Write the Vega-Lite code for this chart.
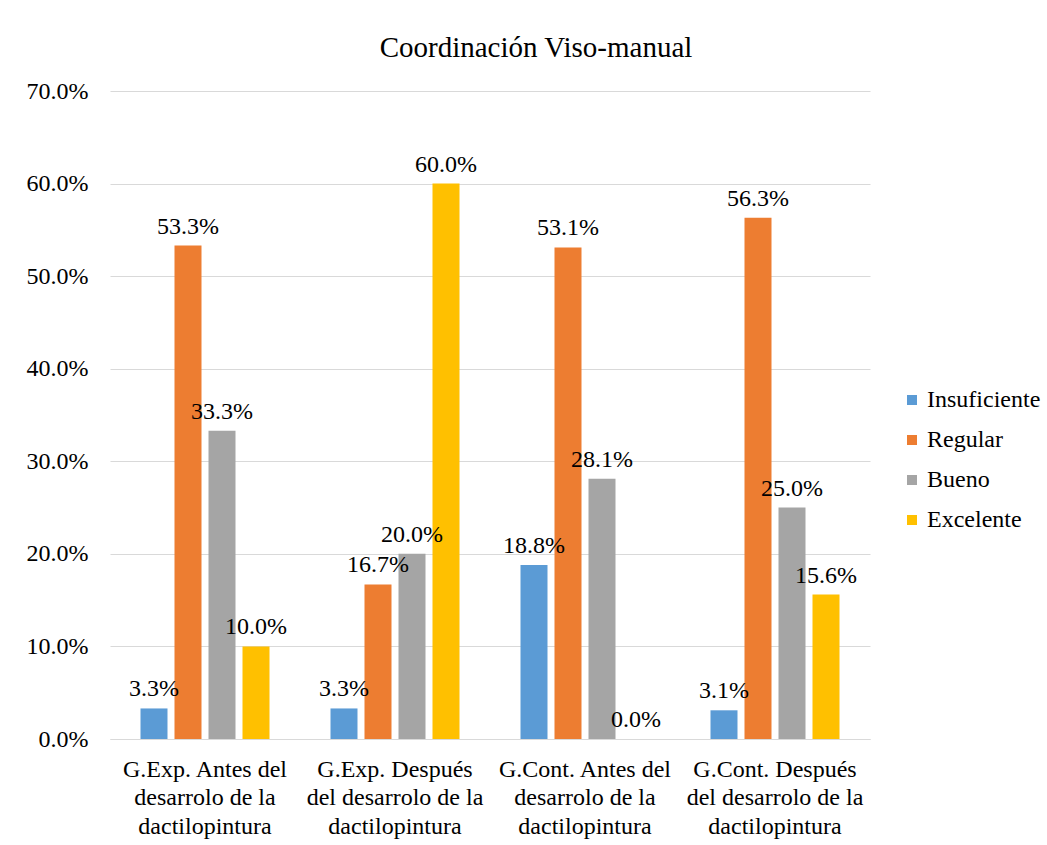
{
  "$schema": "https://vega.github.io/schema/vega-lite/v6.json",
  "width": 760,
  "height": 648,
  "autosize": "none",
  "padding": {"left": 110, "top": 91, "right": 177, "bottom": 106},
  "background": "white",
  "title": {
    "text": "Coordinación Viso-manual",
    "font": "Liberation Serif",
    "fontSize": 29,
    "fontWeight": "normal",
    "color": "black",
    "anchor": "middle",
    "dx": 46,
    "dy": 38,
    "baseline": "alphabetic",
    "offset": 31
  },
  "data": {
    "values": [
      {"grupo": "G.Exp. Antes del desarrolo de la dactilopintura", "nivel": "Insuficiente", "pct": 0.033},
      {"grupo": "G.Exp. Antes del desarrolo de la dactilopintura", "nivel": "Regular", "pct": 0.533},
      {"grupo": "G.Exp. Antes del desarrolo de la dactilopintura", "nivel": "Bueno", "pct": 0.333},
      {"grupo": "G.Exp. Antes del desarrolo de la dactilopintura", "nivel": "Excelente", "pct": 0.1},
      {"grupo": "G.Exp. Después del desarrolo de la dactilopintura", "nivel": "Insuficiente", "pct": 0.033},
      {"grupo": "G.Exp. Después del desarrolo de la dactilopintura", "nivel": "Regular", "pct": 0.167},
      {"grupo": "G.Exp. Después del desarrolo de la dactilopintura", "nivel": "Bueno", "pct": 0.2},
      {"grupo": "G.Exp. Después del desarrolo de la dactilopintura", "nivel": "Excelente", "pct": 0.6},
      {"grupo": "G.Cont. Antes del desarrolo de la dactilopintura", "nivel": "Insuficiente", "pct": 0.188},
      {"grupo": "G.Cont. Antes del desarrolo de la dactilopintura", "nivel": "Regular", "pct": 0.531},
      {"grupo": "G.Cont. Antes del desarrolo de la dactilopintura", "nivel": "Bueno", "pct": 0.281},
      {"grupo": "G.Cont. Antes del desarrolo de la dactilopintura", "nivel": "Excelente", "pct": 0.0},
      {"grupo": "G.Cont. Después del desarrolo de la dactilopintura", "nivel": "Insuficiente", "pct": 0.031},
      {"grupo": "G.Cont. Después del desarrolo de la dactilopintura", "nivel": "Regular", "pct": 0.563},
      {"grupo": "G.Cont. Después del desarrolo de la dactilopintura", "nivel": "Bueno", "pct": 0.25},
      {"grupo": "G.Cont. Después del desarrolo de la dactilopintura", "nivel": "Excelente", "pct": 0.156}
    ]
  },
  "encoding": {
    "x": {
      "field": "grupo",
      "type": "nominal",
      "sort": null,
      "scale": {"paddingInner": 0, "paddingOuter": 0},
      "axis": {
        "title": null,
        "labelAngle": 0,
        "ticks": false,
        "domain": true,
        "domainColor": "#d9d9d9",
        "domainWidth": 1,
        "labelFont": "Liberation Serif",
        "labelFontSize": 24,
        "labelColor": "black",
        "labelPadding": 18,
        "labelLineHeight": 28.5,
        "labelLimit": 0,
        "labelExpr": "datum.label == 'G.Exp. Antes del desarrolo de la dactilopintura' ? ['G.Exp. Antes del', 'desarrolo de la', 'dactilopintura'] : datum.label == 'G.Exp. Después del desarrolo de la dactilopintura' ? ['G.Exp. Después', 'del desarrolo de la', 'dactilopintura'] : datum.label == 'G.Cont. Antes del desarrolo de la dactilopintura' ? ['G.Cont. Antes del', 'desarrolo de la', 'dactilopintura'] : ['G.Cont. Después', 'del desarrolo de la', 'dactilopintura']"
      }
    },
    "xOffset": {
      "field": "nivel",
      "type": "nominal",
      "sort": ["Insuficiente", "Regular", "Bueno", "Excelente"],
      "scale": {"paddingInner": 0.206, "paddingOuter": 0.897}
    },
    "y": {
      "field": "pct",
      "type": "quantitative",
      "scale": {"domain": [0, 0.7], "nice": false},
      "axis": {
        "title": null,
        "values": [0, 0.1, 0.2, 0.3, 0.4, 0.5, 0.6, 0.7],
        "format": ".1%",
        "grid": true,
        "gridColor": "#d9d9d9",
        "gridWidth": 1,
        "domain": false,
        "ticks": false,
        "labelPadding": 22,
        "labelFont": "Liberation Serif",
        "labelFontSize": 24,
        "labelColor": "black"
      }
    }
  },
  "layer": [
    {
      "mark": {"type": "bar"},
      "encoding": {
        "color": {
          "field": "nivel",
          "type": "nominal",
          "sort": ["Insuficiente", "Regular", "Bueno", "Excelente"],
          "scale": {
            "domain": ["Insuficiente", "Regular", "Bueno", "Excelente"],
            "range": ["#5b9bd5", "#ed7d31", "#a5a5a5", "#ffc000"]
          },
          "legend": {
            "title": null,
            "orient": "none",
            "legendX": 790,
            "legendY": 297,
            "symbolType": "square",
            "symbolSize": 100,
            "symbolStrokeWidth": 0,
            "labelFont": "Liberation Serif",
            "labelFontSize": 24,
            "labelColor": "black",
            "labelOffset": 3,
            "labelLimit": 0,
            "rowPadding": 16
          }
        }
      }
    },
    {
      "mark": {
        "type": "text",
        "baseline": "alphabetic",
        "dy": -12,
        "font": "Liberation Serif",
        "fontSize": 24,
        "color": "black"
      },
      "encoding": {
        "text": {"field": "pct", "type": "quantitative", "format": ".1%"}
      }
    }
  ],
  "config": {"view": {"stroke": null}}
}
